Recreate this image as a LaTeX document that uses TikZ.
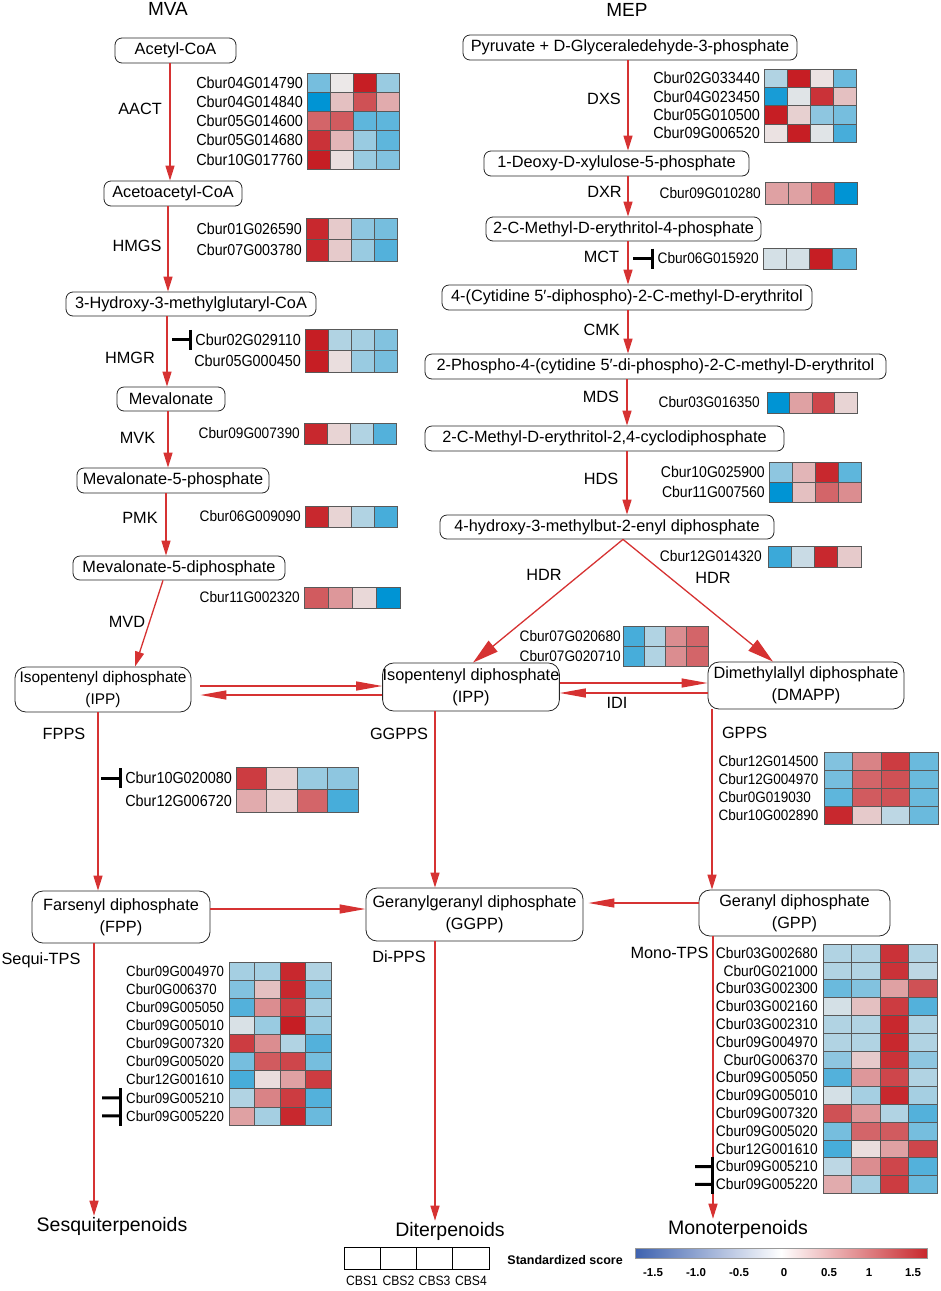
\documentclass[tikz,border=0pt]{standalone}
\usepackage{fontspec}
\setmainfont{Liberation Sans}
\newfontfamily\genefont[FakeStretch=0.9]{Liberation Sans}
\usetikzlibrary{arrows.meta,calc}
\definecolor{rxnred}{RGB}{214,50,50}
\definecolor{hmblue}{RGB}{0,148,212}
\definecolor{hmred}{RGB}{198,30,36}
\definecolor{hmwhite}{RGB}{236,232,232}
\definecolor{cbblue}{RGB}{62,98,175}
\definecolor{cbred}{RGB}{200,40,45}
\tikzset{
    met/.style={
           draw=black!85, line width=0.8pt,
           rounded corners=7pt,
           minimum height=25pt,
           inner sep=0pt,
           font=\fontsize{16.3}{18}\selectfont},
    mettwo/.style={
           met, rounded corners=11pt,
           align=center,
           font=\fontsize{16.3}{22}\selectfont},
    enz/.style={inner sep=0pt, font=\fontsize{16.3}{18}\selectfont},
    rxn/.style={-{Triangle[length=15pt,width=9pt]}, draw=rxnred, line width=1.3pt},
    rxnlong/.style={rxn, -{Triangle[length=26pt,width=9pt]}},
    rxnwide/.style={rxn, -{Triangle[length=26pt,width=14pt]}},
    inhib/.style={-{Bar[width=20pt]}, line width=3pt},
    gene/.style={inner sep=0pt, font=\genefont\fontsize{\hmfs}{\hmfs}\selectfont},
    hmcell/.style={draw=black!65, line width=0.6pt},
    final/.style={inner sep=1pt, font=\fontsize{19.5}{22}\selectfont},
    tick/.style={inner sep=0pt, font=\bfseries\fontsize{11.5}{13}\selectfont}
}
% heat map: block origin, cell size; one row = label + 4 cells
\newcommand{\hmblock}[4]{\def\hmx{#1}\def\hmy{#2}\def\hmw{#3}\def\hmh{#4}%
  \pgfmathsetmacro{\hmlx}{#1-4}\def\hmanchor{east}}
\newcommand{\hmrow}[4]{%
  \node[gene, anchor=\hmanchor] (#1) at (\hmlx,{\hmy+(#3+0.5)*\hmh}) {#2};
  \foreach \v [count=\i from 0] in {#4}{%
    \pgfmathtruncatemacro{\pct}{abs(\v)}%
    \ifnum\v<0\relax\def\hmcol{hmblue}\else\def\hmcol{hmred}\fi
    \draw[hmcell, fill=\hmcol!\pct!hmwhite] ({\hmx+\i*\hmw},{\hmy+#3*\hmh}) rectangle ++(\hmw,\hmh);
  }}

\begin{document}
\begin{tikzpicture}[x=1pt,y=-1pt]
        \useasboundingbox (0,0) rectangle (941,1291);

        \node[inner sep=0pt, font=\fontsize{19}{22}\selectfont] (mva) at (168,9) {MVA};
        \node[inner sep=0pt, font=\fontsize{19}{22}\selectfont] (mepT) at (627,10) {MEP};

        % MVA pathway
        \node[met, minimum width=121pt] (acetyl) at (175.5,50.5) {Acetyl-CoA};
        \node[met, minimum width=138pt] (acetoac) at (173,193.5) {Acetoacetyl-CoA};
        \node[met, minimum width=250pt, minimum height=24pt] (hmgcoa) at (191,304) {3-Hydroxy-3-methylglutaryl-CoA};
        \node[met, minimum width=108pt, minimum height=24pt] (meva) at (171,399) {Mevalonate};
        \node[met, minimum width=192pt] (mvp) at (173,480.5) {Mevalonate-5-phosphate};
        \node[met, minimum width=212pt, minimum height=24pt] (mvpp) at (179,568) {Mevalonate-5-diphosphate};

        % MEP pathway
        \node[met, minimum width=334pt] (pyr) at (630,47.5) {Pyruvate + D-Glyceraledehyde-3-phosphate};
        \node[met, minimum width=265pt] (dxp) at (616.5,163.5) {1-Deoxy-D-xylulose-5-phosphate};
        \node[met, minimum width=275pt, minimum height=24pt] (mep) at (623.5,229) {2-C-Methyl-D-erythritol-4-phosphate};
        \node[met, minimum width=370pt] (cdpme) at (627,297.5) {4-(Cytidine 5′-diphospho)-2-C-methyl-D-erythritol};
        \node[met, minimum width=461pt] (cdpmep) at (655.5,366.5) {2-Phospho-4-(cytidine 5′-di-phospho)-2-C-methyl-D-erythritol};
        \node[met, minimum width=359pt] (mecpp) at (604.5,438.5) {2-C-Methyl-D-erythritol-2,4-cyclodiphosphate};
        \node[met, minimum width=334pt, minimum height=24pt] (hmbpp) at (607,527) {4-hydroxy-3-methylbut-2-enyl diphosphate};

        % prenyl diphosphates
        \node[mettwo, minimum width=176pt, minimum height=45pt, font=\fontsize{15.4}{22}\selectfont] (ippL) at (103,689.5) {Isopentenyl diphosphate\\(IPP)};
        \node[mettwo, minimum width=172pt, minimum height=48pt] (ippM) at (471,687) {Isopentenyl diphosphate\\(IPP)};
        \node[mettwo, minimum width=196pt, minimum height=47pt] (dmapp) at (806,685.5) {Dimethylallyl diphosphate\\(DMAPP)};
        \node[mettwo, minimum width=178pt, minimum height=52pt] (fpp) at (121,917) {Farsenyl diphosphate\\(FPP)};
        \node[mettwo, minimum width=217pt, minimum height=53pt] (ggpp) at (474.5,914.5) {Geranylgeranyl diphosphate\\(GGPP)};
        \node[mettwo, minimum width=191pt, minimum height=46pt] (gpp) at (794.5,913) {Geranyl diphosphate\\(GPP)};

        \node[final] (sesq) at (112,1226) {Sesquiterpenoids};
        \node[final] (diterp) at (450,1231) {Diterpenoids};
        \node[final] (monot) at (738,1229) {Monoterpenoids};

        % enzymes
        \node[enz] (aact) at (140,109) {AACT};
        \node[enz] (hmgs) at (137,246) {HMGS};
        \node[enz] (hmgr) at (130,358) {HMGR};
        \node[enz] (mvk) at (137.5,438) {MVK};
        \node[enz] (pmk) at (140,518) {PMK};
        \node[enz] (mvd) at (127,622) {MVD};
        \node[enz] (dxs) at (604,99) {DXS};
        \node[enz] (dxr) at (604.5,192) {DXR};
        \node[enz] (mct) at (601.5,257) {MCT};
        \node[enz] (cmk) at (601.7,330) {CMK};
        \node[enz] (mds) at (601,397) {MDS};
        \node[enz] (hds) at (601,479) {HDS};
        \node[enz] (hdrL) at (544,575) {HDR};
        \node[enz] (hdrR) at (713,578) {HDR};
        \node[enz] (idi) at (617,703) {IDI};
        \node[enz] (fpps) at (64,734) {FPPS};
        \node[enz] (ggpps) at (399,734) {GGPPS};
        \node[enz] (gpps) at (744.7,733) {GPPS};
        \node[enz] (sqtps) at (41,960) {Sequi-TPS};
        \node[enz] (dipps) at (399,957) {Di-PPS};
        \node[enz] (mntps) at (669.5,953) {Mono-TPS};

        % heat maps, MVA side
        \def\hmfs{16}
        \hmblock{307}{73}{23}{19.2}
        \hmrow{aactA}{Cbur04G014790}{0}{-50,0,100,-35}
        \hmrow{aactB}{Cbur04G014840}{1}{-100,20,75,30}
        \hmrow{aactC}{Cbur05G014600}{2}{65,70,-60,-60}
        \hmrow{aactD}{Cbur05G014680}{3}{90,25,-35,-60}
        \hmrow{aactE}{Cbur10G017760}{4}{100,5,-35,-45}
        \def\hmfs{15.8}
        \hmblock{306}{218}{22.75}{21.5}
        \hmrow{hmgsA}{Cbur01G026590}{0}{95,15,-40,-50}
        \hmrow{hmgsB}{Cbur07G003780}{1}{95,15,-35,-65}
        \def\hmfs{16}
        \hmblock{305}{329}{23}{21.5}
        \hmrow{hmgrA}{Cbur02G029110}{0}{100,-25,-30,-45}
        \hmrow{hmgrB}{Cbur05G000450}{1}{100,5,-35,-50}
        \def\hmfs{15.2}
        \hmblock{304}{423}{23}{21}
        \hmrow{mvkA}{Cbur09G007390}{0}{95,10,-25,-65}
        \hmblock{305}{506}{23}{21}
        \hmrow{pmkA}{Cbur06G009090}{0}{95,10,-25,-70}
        \hmblock{304}{587}{24}{21}
        \hmrow{mvdA}{Cbur11G002320}{0}{70,40,8,-100}

        % heat maps, MEP side
        \def\hmfs{16}
        \hmblock{764}{69}{23}{18.3}
        \hmrow{dxsA}{Cbur02G033440}{0}{-25,100,3,-55}
        \hmrow{dxsB}{Cbur04G023450}{1}{-90,-5,90,20}
        \hmrow{dxsC}{Cbur05G010500}{2}{100,12,-40,-50}
        \hmrow{dxsD}{Cbur09G006520}{3}{3,100,-5,-70}
        \def\hmfs{15.2}
        \hmblock{765}{182}{23}{22}
        \hmrow{dxrA}{Cbur09G010280}{0}{35,35,65,-100}
        \hmblock{763}{248}{23.25}{21}
        \hmrow{mctA}{Cbur06G015920}{0}{-10,-10,100,-60}
        \hmblock{767}{392}{22.5}{21}
        \def\hmlx{760}
        \hmrow{mdsA}{Cbur03G016350}{0}{-100,35,80,10}
        \def\hmfs{15.6}
        \hmblock{769}{462}{23}{20}
        \hmrow{hdsA}{Cbur10G025900}{0}{-40,25,95,-60}
        \hmrow{hdsB}{Cbur11G007560}{1}{-100,20,65,45}
        \def\hmfs{15.3}
        \hmblock{768}{546}{23.25}{21}
        \def\hmlx{762}
        \hmrow{hdrA}{Cbur12G014320}{0}{-75,-15,95,15}
        \def\hmfs{15.2}
        \hmblock{623}{626}{21.25}{20}
        \def\hmlx{621}
        \hmrow{idiA}{Cbur07G020680}{0}{-70,-25,45,65}
        \hmrow{idiB}{Cbur07G020710}{1}{-70,-25,45,65}
        \def\hmfs{15}
        \hmblock{824}{752}{28.5}{18}
        \def\hmlx{718.3}\def\hmanchor{west}
        \hmrow{gppsA}{Cbur12G014500}{0}{-45,50,85,-55}
        \hmrow{gppsB}{Cbur12G004970}{1}{-50,65,75,-55}
        \hmrow{gppsC}{Cbur0G019030}{2}{-60,70,75,-55}
        \hmrow{gppsD}{Cbur10G002890}{3}{95,15,-20,-55}
        \def\hmfs{16}
        \hmblock{236}{767}{30.5}{22.5}
        \hmrow{fppsA}{Cbur10G020080}{0}{85,10,-35,-40}
        \hmrow{fppsB}{Cbur12G006720}{1}{30,10,65,-70}

        % terpene synthases
        \def\hmfs{14.7}
        \hmblock{229}{962}{25.5}{18.1}
        \def\hmlx{126}\def\hmanchor{west}
        \hmrow{sqA}{Cbur09G004970}{0}{-30,-30,95,-25}
        \hmrow{sqB}{Cbur0G006370}{1}{-45,20,95,-45}
        \hmrow{sqC}{Cbur09G005050}{2}{-65,45,85,-30}
        \hmrow{sqD}{Cbur09G005010}{3}{-8,-35,100,-35}
        \hmrow{sqE}{Cbur09G007320}{4}{85,45,-25,-65}
        \hmrow{sqF}{Cbur09G005020}{5}{-50,70,80,-50}
        \hmrow{sqG}{Cbur12G001610}{6}{-70,5,35,85}
        \hmrow{sqH}{Cbur09G005210}{7}{-25,50,85,-65}
        \hmrow{sqI}{Cbur09G005220}{8}{35,-30,95,-55}
        \def\hmfs{15.3}
        \hmblock{823}{944}{28.5}{17.8}
        \def\hmlx{818}
        \hmrow{monoA}{Cbur03G002680}{0}{-25,-25,90,-25}
        \hmrow{monoB}{Cbur0G021000}{1}{-25,-25,90,-20}
        \hmrow{monoC}{Cbur03G002300}{2}{-55,-45,35,75}
        \hmrow{monoD}{Cbur03G002160}{3}{-10,20,85,-65}
        \hmrow{monoE}{Cbur03G002310}{4}{-25,-25,95,-25}
        \hmrow{monoF}{Cbur09G004970}{5}{-25,-25,95,-25}
        \hmrow{monoG}{Cbur0G006370}{6}{-40,15,90,-40}
        \hmrow{monoH}{Cbur09G005050}{7}{-65,40,80,-25}
        \hmrow{monoI}{Cbur09G005010}{8}{-10,-30,95,-30}
        \hmrow{monoJ}{Cbur09G007320}{9}{75,40,-25,-65}
        \hmrow{monoK}{Cbur09G005020}{10}{-50,65,70,-50}
        \hmrow{monoL}{Cbur12G001610}{11}{-70,5,35,80}
        \hmrow{monoM}{Cbur09G005210}{12}{-20,45,80,-65}
        \hmrow{monoN}{Cbur09G005220}{13}{30,-30,85,-55}

        % reactions
        \draw[rxn] (acetyl.south -| 170,0) -- (acetoac.north -| 170,0);
        \draw[rxn] (acetoac.south -| 168,0) -- (hmgcoa.north -| 168,0);
        \draw[rxn] (hmgcoa.south -| 167,0) -- (meva.north -| 167,0);
        \draw[rxn] (meva.south -| 168,0) -- (mvp.north -| 168,0);
        \draw[rxn] (mvp.south -| 166,0) -- (mvpp.north -| 166,0);
        \draw[rxn] (mvpp.south -| 163,0) -- (ippL.north -| 135,0);

        \draw[rxn] (pyr.south -| 628,0) -- (dxp.north -| 628,0);
        \draw[rxn] (dxp.south -| 628,0) -- (mep.north -| 628,0);
        \draw[rxn] (mep.south -| 628,0) -- (cdpme.north -| 628,0);
        \draw[rxn] (cdpme.south -| 628,0) -- (cdpmep.north -| 628,0);
        \draw[rxn] (cdpmep.south -| 627,0) -- (mecpp.north -| 627,0);
        \draw[rxn] (mecpp.south -| 627,0) -- (hmbpp.north -| 627,0);
        \draw[rxnwide] (hmbpp.south -| 623,0) -- (ippM.north -| 473,0);
        \draw[rxnwide] (hmbpp.south -| 623,0) -- (dmapp.north -| 773,0);

        \draw[rxnlong] ([xshift=9pt,yshift=3.5pt]ippL.east) -- ([yshift=1pt]ippM.west);
        \draw[rxnlong] ([yshift=-8pt]ippM.west) -- ([xshift=9pt,yshift=-5.5pt]ippL.east);
        \draw[rxnlong] ([yshift=4pt]ippM.east) -- ([yshift=2.5pt]dmapp.west);
        \draw[rxnlong] ([yshift=-7.5pt]dmapp.west) -- ([yshift=-6pt]ippM.east);

        \draw[rxn] (ippL.south -| 98,0) -- (fpp.north -| 98,0);
        \draw[rxn] (ippM.south -| 435,0) -- (ggpp.north -| 435,0);
        \draw[rxn] (dmapp.south -| 712,0) -- (gpp.north -| 712,0);
        \draw[rxnlong] ([yshift=8pt]fpp.east) -- ([yshift=5.5pt]ggpp.west);
        \draw[rxnlong] ([yshift=10pt]gpp.west) -- ([xshift=5pt,yshift=11.5pt]ggpp.east);
        \draw[rxn] (fpp.south -| 94,0) -- (sesq.north -| 94,0);
        \draw[rxn] (ggpp.south -| 435,0) -- (diterp.north -| 435,0);
        \draw[rxn] (gpp.south -| 713,0) -- (monot.north -| 713,0);

        % inhibition marks
        \coordinate (hmgrT) at (172,339.75);
        \coordinate (mctT) at (633,258.5);
        \coordinate (fppsT) at (101,778.25);
        \coordinate (sqTa) at (102,1097.75);
        \coordinate (sqTb) at (102,1115.85);
        \coordinate (monoTa) at (695,1166.5);
        \coordinate (monoTb) at (695,1184.3);
        \draw[inhib] (hmgrT) -- ([xshift=-3pt]hmgrA.west);
        \draw[inhib] (mctT) -- ([xshift=-3pt]mctA.west);
        \draw[inhib] (fppsT) -- ([xshift=-3pt]fppsA.west);
        \draw[inhib] (sqTa) -- ([xshift=-4pt]sqH.west);
        \draw[inhib] (sqTb) -- ([xshift=-4pt]sqI.west);
        \draw[inhib] (monoTa) -- ([xshift=-1.5pt]monoM.west);
        \draw[inhib] (monoTb) -- ([xshift=-1.5pt]monoN.west);

        % legend
        \foreach \k in {0,...,3}
            \draw[line width=1pt] ({344+\k*36.25},1247) rectangle ++(36.25,22);
        \foreach \k/\xx in {1/362,2/398.4,3/434.6,4/470.9}
            \node[inner sep=0pt, font=\genefont\fontsize{13.5}{15}\selectfont] (cbs\k) at (\xx,1281) {CBS\k};
        \node[anchor=east, inner sep=0pt, font=\bfseries\fontsize{12.5}{14}\selectfont] (stdscore) at (623,1260) {Standardized score};
        \shade[left color=cbblue, right color=cbred, middle color=white] (635,1248) rectangle (927,1258);
        \draw[black!40, line width=0.6pt] (635,1248) rectangle (927,1258);
        \foreach \t/\xx in {-1.5/653,-1.0/696,-0.5/739,0/784,0.5/829,1/869,1.5/913}
            \node[tick] (tk\xx) at (\xx,1273) {\t};
\end{tikzpicture}
\end{document}
